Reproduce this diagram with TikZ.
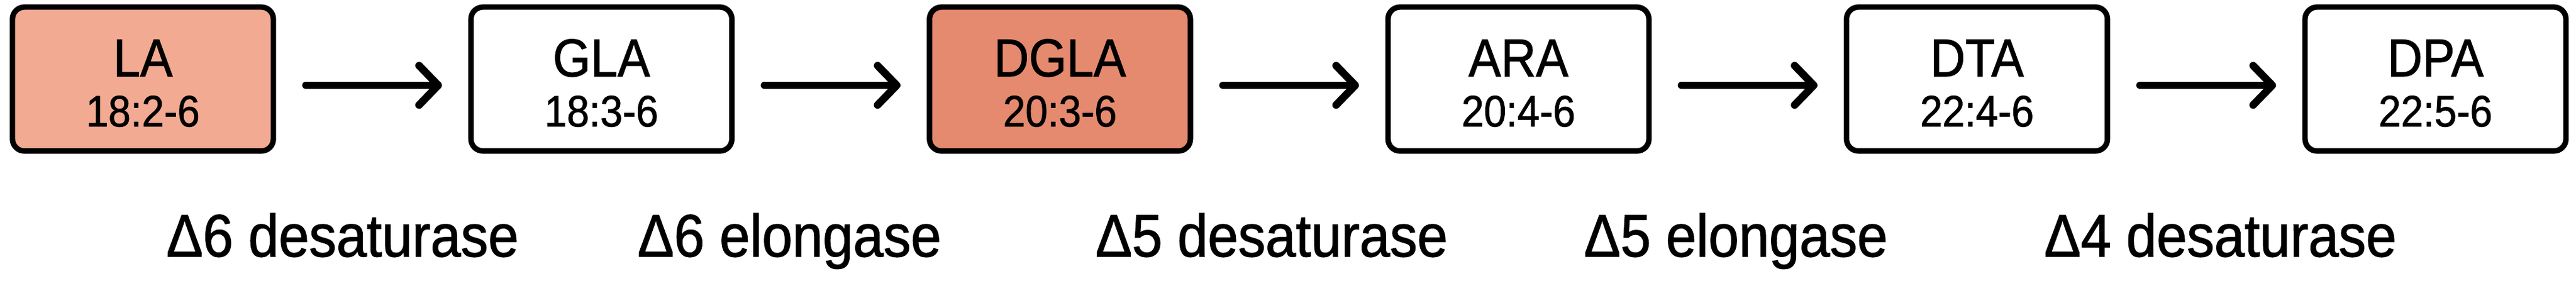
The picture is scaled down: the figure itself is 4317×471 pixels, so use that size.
\documentclass[tikz,border=0pt]{standalone}
\usepackage{fontspec}
\setmainfont{Liberation Sans}[FakeStretch=0.91,FakeBold=1.2]
\usetikzlibrary{arrows.meta}
\definecolor{salmonlight}{RGB}{242,171,146}
\definecolor{salmondark}{RGB}{229,138,111}
\tikzset{
 fabox/.style={draw=black, line width=2.6pt, rounded corners=0.2cm, minimum width=4.37cm, minimum height=2.41cm, inner sep=0pt, fill=white},
 faname/.style={anchor=base, inner sep=0pt, font=\fontsize{25.4pt}{30pt}\selectfont},
 fachem/.style={anchor=base, inner sep=0pt, font=\fontsize{21pt}{25pt}\selectfont},
 enzyme/.style={anchor=base, inner sep=0pt, font=\fontsize{28.6pt}{34pt}\selectfont},
 conv/.style={line width=3.6pt, line cap=round, -{Straight Barb[length=0.32cm,width=0.66cm,round]}, shorten <=0.5cm, shorten >=0.44cm},
}
\begin{document}
\begin{tikzpicture}[x=0.01cm,y=-0.01cm]
\useasboundingbox (0,0) rectangle (4317,471);
% boxes
\node[fabox, fill=salmonlight] (LA)   at (239.5,132.5) {};
\node[fabox]                   (GLA)  at (1007.9,132.5) {};
\node[fabox, fill=salmondark]  (DGLA) at (1776.3,132.5) {};
\node[fabox]                   (ARA)  at (2544.7,132.5) {};
\node[fabox]                   (DTA)  at (3313.1,132.5) {};
\node[fabox]                   (DPA)  at (4081.5,132.5) {};
% texts in boxes
\node[faname] (LAn)   at (239.5,128) {LA};
\node[fachem] (LAc)   at (239.5,212) {18:2-6};
\node[faname] (GLAn)  at (1007.9,128) {GLA};
\node[fachem] (GLAc)  at (1007.9,212) {18:3-6};
\node[faname] (DGLAn) at (1776.3,128) {DGLA};
\node[fachem] (DGLAc) at (1776.3,212) {20:3-6};
\node[faname] (ARAn)  at (2544.7,128) {ARA};
\node[fachem] (ARAc)  at (2544.7,212) {20:4-6};
\node[faname] (DTAn)  at (3313.1,128) {DTA};
\node[fachem] (DTAc)  at (3313.1,212) {22:4-6};
\node[faname] (DPAn)  at (4081.5,128) {DPA};
\node[fachem] (DPAc)  at (4081.5,212) {22:5-6};
% arrows
\draw[conv] ([yshift=-0.105cm]LA.east)   -- ([yshift=-0.105cm]GLA.west);
\draw[conv] ([yshift=-0.105cm]GLA.east)  -- ([yshift=-0.105cm]DGLA.west);
\draw[conv] ([yshift=-0.105cm]DGLA.east) -- ([yshift=-0.105cm]ARA.west);
\draw[conv] ([yshift=-0.105cm]ARA.east)  -- ([yshift=-0.105cm]DTA.west);
\draw[conv] ([yshift=-0.105cm]DTA.east)  -- ([yshift=-0.105cm]DPA.west);
% enzymes
\node[enzyme] (e1) at (574,430)  {Δ6 desaturase};
\node[enzyme] (e2) at (1323,430) {Δ6 elongase};
\node[enzyme] (e3) at (2131,430) {Δ5 desaturase};
\node[enzyme] (e4) at (2909,430) {Δ5 elongase};
\node[enzyme] (e5) at (3721,430) {Δ4 desaturase};
\end{tikzpicture}
\end{document}
